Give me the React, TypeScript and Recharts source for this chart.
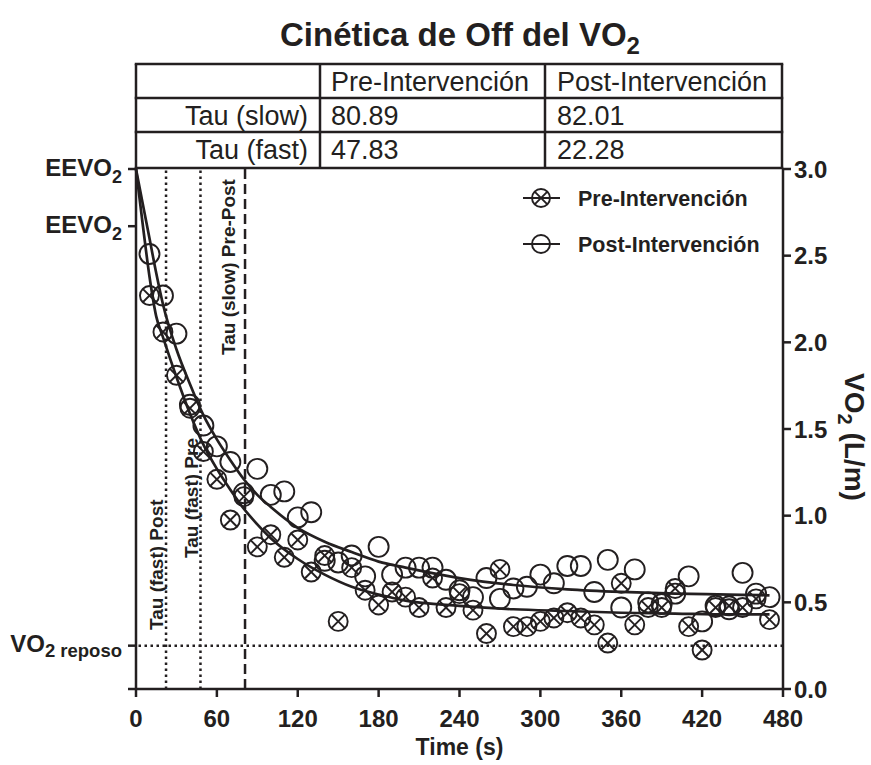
import React from 'react'
import { ComposedChart, Line, Scatter, XAxis, YAxis, ReferenceLine } from 'recharts'

const FONT = '"Liberation Sans", Arial, Helvetica, sans-serif'
const INK = '#231f20'

// muestras cada 10 s
const times = [
  10, 20, 30, 40, 50, 60, 70, 80, 90, 100, 110, 120, 130, 140, 150, 160, 170, 180, 190, 200,
  210, 220, 230, 240, 250, 260, 270, 280, 290, 300, 310, 320, 330, 340, 350, 360, 370, 380, 390, 400,
  410, 420, 430, 440, 450, 460, 470,
]
const preValues = [
  2.27, 2.06, 1.81, 1.62, 1.37, 1.21, 0.975, 1.11, 0.82, 0.89, 0.76, 0.86, 0.675, 0.77, 0.39, 0.70, 0.57, 0.485, 0.56, 0.53,
  0.47, 0.64, 0.47, 0.55, 0.455, 0.32, 0.69, 0.36, 0.36, 0.39, 0.41, 0.44, 0.41, 0.37, 0.265, 0.61, 0.37, 0.47, 0.47, 0.58,
  0.36, 0.225, 0.47, 0.48, 0.47, 0.52, 0.40,
]
const postValues = [
  2.51, 2.27, 2.05, 1.64, 1.52, 1.40, 1.31, 1.13, 1.27, 1.12, 1.14, 0.99, 1.02, 0.74, 0.73, 0.77, 0.65, 0.82, 0.66, 0.70,
  0.70, 0.70, 0.63, 0.57, 0.53, 0.64, 0.52, 0.58, 0.59, 0.66, 0.61, 0.71, 0.71, 0.56, 0.745, 0.47, 0.69, 0.50, 0.49, 0.55,
  0.65, 0.39, 0.48, 0.46, 0.67, 0.55, 0.53,
]

// curvas de ajuste
const curveTimes = [0, 5, 10, 15, 20, 30, 40, 50, 60, 70, 80, 90, 100, 120, 140, 160, 180, 200, 240, 280, 320, 360, 400, 440, 470]
const preCurve = [3.0, 2.68, 2.38, 2.15, 2.03, 1.80, 1.59, 1.41, 1.27, 1.15, 1.04, 0.95, 0.87, 0.75, 0.66, 0.59, 0.545, 0.51, 0.48, 0.46, 0.45, 0.44, 0.435, 0.43, 0.43]
const postCurve = [3.0, 2.80, 2.60, 2.40, 2.22, 1.96, 1.76, 1.58, 1.44, 1.32, 1.21, 1.12, 1.05, 0.93, 0.85, 0.79, 0.735, 0.70, 0.64, 0.60, 0.575, 0.56, 0.55, 0.545, 0.54]

const xTicks = [0, 60, 120, 180, 240, 300, 360, 420, 480]
const yTicks = [0, 0.5, 1.0, 1.5, 2.0, 2.5, 3.0]
const leftTicks = [0, 0.25, 2.67, 3.0]
const leftTickMain = ['', 'VO', 'EEVO', 'EEVO']
const leftTickSub = ['', '2 reposo', '2', '2']

const vo2Reposo = 0.25
const tauFastPost = 22.28
const tauFastPre = 47.83
const tauSlowPre = 80.89

const tableHeader = ['', 'Pre-Intervención', 'Post-Intervención']
const tauSlowRow = ['Tau (slow)', '80.89', '82.01']
const tauFastRow = ['Tau (fast)', '47.83', '22.28']
const legendLabels = ['Pre-Intervención', 'Post-Intervención']

const preData = times.map((t, i) => ({ t, v: preValues[i] }))
const postData = times.map((t, i) => ({ t, v: postValues[i] }))
const preCurveData = curveTimes.map((t, i) => ({ t, v: preCurve[i] }))
const postCurveData = curveTimes.map((t, i) => ({ t, v: postCurve[i] }))

const PreDot = ({ cx, cy, r = 9.5 }: any) => {
  if (cx == null || cy == null) return null
  const d = r * 0.707
  return (
    <g stroke={INK} strokeWidth={1.9} fill="none">
      <circle cx={cx} cy={cy} r={r} />
      <line x1={cx - d} y1={cy - d} x2={cx + d} y2={cy + d} />
      <line x1={cx - d} y1={cy + d} x2={cx + d} y2={cy - d} />
    </g>
  )
}

const PostDot = ({ cx, cy, r = 10 }: any) => {
  if (cx == null || cy == null) return null
  return <circle cx={cx} cy={cy} r={r} stroke={INK} strokeWidth={1.9} fill="none" />
}

const LeftTick = ({ x, y, payload }: any) => {
  const i = leftTicks.findIndex(v => Math.abs(v - payload.value) < 1e-6)
  if (i < 0 || !leftTickMain[i]) return null
  const reposo = i === 1
  return (
    <text x={x} y={y} textAnchor="end" fontFamily={FONT} fontWeight="bold" fill={INK} fontSize={24}>
      <tspan dy={reposo ? 6 : 7}>{leftTickMain[i]}</tspan>
      <tspan dy={reposo ? 5 : 7} fontSize={reposo ? 18.5 : 18}>{leftTickSub[i]}</tspan>
    </text>
  )
}

const VLabel = ({ viewBox, text, dx, start }: any) => {
  if (!viewBox) return null
  const x = viewBox.x + dx
  const y = viewBox.y + start
  return (
    <text x={x} y={y} transform={`rotate(-90, ${x}, ${y})`} textAnchor="start"
      fontFamily={FONT} fontWeight="bold" fontSize={19} fill={INK}>
      {text}
    </text>
  )
}

const XTitle = ({ viewBox }: any) => {
  if (!viewBox) return null
  return (
    <text x={viewBox.x + viewBox.width / 2} y={viewBox.y + 66} textAnchor="middle"
      fontFamily={FONT} fontWeight="bold" fontSize={23} fill={INK}>
      Time (s)
    </text>
  )
}

const YTitle = ({ viewBox }: any) => {
  if (!viewBox) return null
  const x = viewBox.x + 62
  const y = viewBox.y + viewBox.height / 2 + 8
  return (
    <g transform={`translate(${x}, ${y}) rotate(90)`}>
      <text x={0} y={0} textAnchor="middle" fontFamily={FONT} fontWeight="bold" fontSize={28} fill={INK}>
        VO<tspan dy={7} fontSize={20}>2</tspan><tspan dy={-7}> (L/m)</tspan>
      </text>
    </g>
  )
}

const colX = [136, 320, 545, 782]
const rowY = [64, 98, 132, 168]

function Overlay() {
  const rows = [tableHeader, tauSlowRow, tauFastRow]
  return (
    <svg width={871} height={765} style={{ position: 'absolute', left: 0, top: 0, pointerEvents: 'none' }}>
      <text x={460} y={46} textAnchor="middle" fontFamily={FONT} fontWeight="bold" fontSize={33} fill={INK}>
        Cinética de Off del VO<tspan dy={8} fontSize={24}>2</tspan>
      </text>

      <g stroke={INK} strokeWidth={2.5}>
        {rowY.map(y => <line key={'h' + y} x1={colX[0] - 1.25} x2={colX[3] + 1.25} y1={y} y2={y} />)}
        {colX.map(x => <line key={'v' + x} x1={x} x2={x} y1={rowY[0]} y2={rowY[3]} />)}
      </g>
      {rows.map((row, r) => (
        <g key={r} fontFamily={FONT} fontSize={27} fill={INK}>
          {row[0] && <text x={colX[1] - 12} y={rowY[r] + 27} textAnchor="end">{row[0]}</text>}
          <text x={colX[1] + 11} y={rowY[r] + 27}>{row[1]}</text>
          <text x={colX[2] + 12} y={rowY[r] + 27}>{row[2]}</text>
        </g>
      ))}

      {legendLabels.map((label, i) => {
        const y = 198 + i * 46
        return (
          <g key={label}>
            <line x1={523} x2={560} y1={y} y2={y} stroke={INK} strokeWidth={1.8} />
            {i === 0 ? <PreDot cx={541} cy={y} r={9} /> : <PostDot cx={541} cy={y} r={9} />}
            <text x={578} y={y + 7.5} fontFamily={FONT} fontWeight="bold" fontSize={21.5} fill={INK}>{label}</text>
          </g>
        )
      })}
    </svg>
  )
}

export default function App() {
  const axisStyle = { stroke: INK, strokeWidth: 2.5 }
  const tickStyle = { fontSize: 24, fontWeight: 'bold', fill: INK, fontFamily: FONT }
  return (
    <div style={{ position: 'absolute', left: 0, top: 0, width: 871, height: 765, background: '#fff' }}>
      <ComposedChart width={871} height={765} margin={{ top: 169, right: 0, bottom: 0, left: 0 }}>
        <XAxis
          type="number" dataKey="t" domain={[0, 480]} ticks={xTicks} interval={0}
          height={76} tickSize={8} tickMargin={13}
          axisLine={axisStyle} tickLine={axisStyle} tick={tickStyle}
          label={<XTitle />}
        />
        <YAxis
          yAxisId="left" orientation="left" dataKey="v" type="number" domain={[0, 3]}
          ticks={leftTicks} interval={0} width={136} tickSize={8} tickMargin={6}
          axisLine={axisStyle} tickLine={axisStyle} tick={<LeftTick />}
        />
        <YAxis
          yAxisId="right" orientation="right" dataKey="v" type="number" domain={[0, 3]}
          ticks={yTicks} interval={0} width={88} tickSize={8} tickMargin={3}
          axisLine={axisStyle} tickLine={axisStyle} tick={tickStyle}
          tickFormatter={(v: number) => v.toFixed(1)}
          label={<YTitle />}
        />

        <ReferenceLine yAxisId="right" y={vo2Reposo} stroke={INK} strokeWidth={2.5} strokeDasharray="2.5 3.5" />
        <ReferenceLine yAxisId="right" x={tauFastPost} stroke={INK} strokeWidth={2.5} strokeDasharray="2.5 3.5"
          label={<VLabel text="Tau (fast) Post" dx={-3} start={461} />} />
        <ReferenceLine yAxisId="right" x={tauFastPre} stroke={INK} strokeWidth={2.5} strokeDasharray="2.5 3.5"
          label={<VLabel text="Tau (fast) Pre" dx={-2} start={389} />} />
        <ReferenceLine yAxisId="right" x={tauSlowPre} stroke={INK} strokeWidth={2.5} strokeDasharray="10 5"
          label={<VLabel text="Tau (slow) Pre-Post" dx={-10} start={186} />} />

        <Line yAxisId="left" data={preCurveData} dataKey="v" type="monotone" stroke={INK} strokeWidth={2.7}
          dot={false} activeDot={false} isAnimationActive={false} />
        <Line yAxisId="right" data={postCurveData} dataKey="v" type="monotone" stroke={INK} strokeWidth={2.7}
          dot={false} activeDot={false} isAnimationActive={false} />

        <Scatter yAxisId="left" data={preData} dataKey="v" shape={<PreDot />} isAnimationActive={false} />
        <Scatter yAxisId="right" data={postData} dataKey="v" shape={<PostDot />} isAnimationActive={false} />
      </ComposedChart>
      <Overlay />
    </div>
  )
}
